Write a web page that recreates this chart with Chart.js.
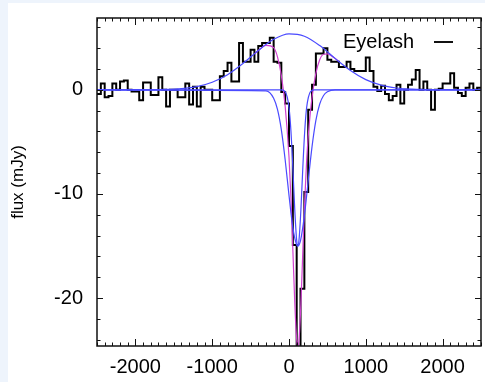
<!DOCTYPE html>
<html>
<head>
<meta charset="utf-8">
<script src="https://cdn.jsdelivr.net/npm/chart.js@4.4.1/dist/chart.umd.min.js"></script>
<style>
    html, body { margin: 0; padding: 0; background: #eef4fc; }
    #wrap { position: absolute; left: 8px; top: 3px; width: 477px; height: 379px; background: #ffffff; }
</style>
</head>
<body>
<div id="wrap"><canvas id="chart1" width="477" height="379"></canvas></div>
<script>
/* ---------------------------------------------------------------------------------------- */
/* DATA                                                                                     */
/* ---------------------------------------------------------------------------------------- */

    // binned spectrum, 50 km/s channels starting at -2500
    var binStart = -2500;
    var binWidth = 50;
    var fluxBins = [
        -0.4, 0.6, -0.7, -0.6, 0.6, 0.0, 0.8, 0.9, 0.0, -0.15,
        -0.15, -1.0, 0.7, 0.7, -0.5, -0.5, 1.2, 0.0, -1.6, 0.0,
        0.0, -0.7, -0.7, 0.6, -1.4, 0.3, -1.6, 0.3, 0.0, 0.0,
        -1.0, -1.0, 1.3, 1.8, 2.6, 0.8, 0.8, 4.5, 2.7, 2.7,
        3.85, 2.7, 4.2, 4.5, 4.5, 5.0, 2.7, 2.6, -0.2, -1.3,
        -5.4, -14.9, -26.0, -19.1, -9.8, -1.9, 0.5, 3.5, 3.5, 4.0,
        2.9, 2.7, 2.7, 2.2, 2.2, 2.7, 2.0, 1.8, 1.8, 1.8,
        3.1, 1.8, 0.3, -0.1, 0.4, -0.4, -1.0, -0.6, 0.5, -1.3,
        0.0, 0.5, 1.0, 1.9, 0.0, 0.8, 0.0, -1.9, 0.0, 0.1,
        0.6, 0.6, 1.6, 0.2, -0.3, -0.6, 0.2, 0.6, 0.0, 0.2
    ];

    // broad emission component
    var broadX = [-2500, -2000, -1600, -1400, -1200, -1000, -800, -600, -400, -200, 0, 200, 400, 600, 800, 1000, 1200, 1400, 1600, 2000, 2500];
    var broadY = [0.0, 0.0, 0.04, 0.12, 0.31, 0.73, 1.46, 2.53, 3.78, 4.85, 5.38, 5.15, 4.25, 3.02, 1.86, 0.98, 0.45, 0.18, 0.06, 0.01, 0.0];

    // wide absorption component
    var wideX = [-2500, -300, -200, -150, -100, -50, 0, 50, 100, 115, 150, 200, 250, 300, 350, 400, 450, 500, 600, 2500];
    var wideY = [0.0, -0.09, -0.80, -1.88, -3.82, -6.71, -10.14, -13.24, -14.9, -15.0, -14.47, -12.11, -8.75, -5.45, -2.93, -1.36, -0.54, -0.19, -0.01, 0.0];

    // narrow absorption component
    var narrowX = [-2500, -100, -50, 0, 25, 50, 75, 100, 115, 130, 155, 180, 205, 230, 280, 330, 2500];
    var narrowY = [0.0, 0.0, -0.17, -1.69, -3.93, -7.46, -11.51, -14.45, -15.0, -14.45, -11.51, -7.46, -3.93, -1.69, -0.17, 0.0, 0.0];

    // total fit
    var fitX = [-450, -400, -300, -200, -150, -100, -50, 0, 25, 50, 75, 100, 115, 130, 155, 180, 205, 230, 250, 280, 300, 350, 400, 450, 500, 550, 600, 650];
    var fitY = [3.46, 3.78, 4.27, 4.05, 3.17, 1.39, -1.56, -6.45, -10.33, -15.30, -20.43, -23.99, -24.66, -24.03, -20.55, -15.49, -10.59, -6.78, -4.51, -2.03, -0.73, 1.59, 2.89, 3.42, 3.46, 3.28, 3.01, 2.71];

    var xTicks = [-2000, -1000, 0, 1000, 2000];
    var yTicks = [-20, -10, 0];
    var legendLabel = 'Eyelash';
    var yTitle = 'flux (mJy)';

    var BLUE = '#4a4aff';
    var MAGENTA = '#d040d0';
    var FONT = '"Liberation Sans", Helvetica, Arial, sans-serif';

/* ---------------------------------------------------------------------------------------- */
/* HELPERS                                                                                  */
/* ---------------------------------------------------------------------------------------- */

    function pts(xs, ys){
        var out = [];
        for(let i = 0; i < xs.length; i++){
            out.push({ x: xs[i], y: ys[i] });
        }
        return out;
    }

    function histPoints(){
        var out = [{ x: binStart, y: fluxBins[0] }];
        for(let i = 0; i < fluxBins.length; i++){
            out.push({ x: binStart + binWidth * (i + 0.5), y: fluxBins[i] });
        }
        out.push({ x: binStart + binWidth * fluxBins.length, y: fluxBins[fluxBins.length - 1] });
        return out;
    }

    // frame, inside ticks on all four sides, legend entry
    var frameTicks = {
        id: 'frameTicks',
        afterDatasetsDraw: function(chart){
            var a = chart.chartArea, sx = chart.scales.x, sy = chart.scales.y, c = chart.ctx;
            c.save();
            c.strokeStyle = '#111';
            c.lineWidth = 1;
            c.beginPath();
            for(let v = -2500; v <= 2500; v += 100){
                let px = Math.round(sx.getPixelForValue(v)) + 0.5;
                let len = (v % 1000 === 0) ? 7 : 3.5;
                c.moveTo(px, a.bottom); c.lineTo(px, a.bottom - len);
                c.moveTo(px, a.top);    c.lineTo(px, a.top + len);
            }
            for(let v = -24; v <= 6; v += 2){
                let py = Math.round(sy.getPixelForValue(v)) + 0.5;
                let len = (v % 10 === 0) ? 6 : 3.5;
                c.moveTo(a.left, py);  c.lineTo(a.left + len, py);
                c.moveTo(a.right, py); c.lineTo(a.right - len, py);
            }
            c.stroke();
            c.lineWidth = 1.5;
            c.strokeRect(a.left, a.top, a.right - a.left, a.bottom - a.top);

            // legend
            c.fillStyle = '#000';
            c.font = '20px ' + FONT;
            c.textBaseline = 'middle';
            c.textAlign = 'left';
            c.fillText(legendLabel, a.right - 138, a.top + 24);
            c.lineWidth = 2;
            c.beginPath();
            c.moveTo(a.right - 47, a.top + 24);
            c.lineTo(a.right - 28, a.top + 24);
            c.stroke();
            c.restore();
        }
    };

/* ---------------------------------------------------------------------------------------- */
/* CHART                                                                                    */
/* ---------------------------------------------------------------------------------------- */

    var ctx = document.getElementById('chart1').getContext('2d');
    var chart1 = new Chart(ctx, {
        type: 'line',
        data: {
            datasets: [{
                label: 'narrow',
                data: pts(narrowX, narrowY),
                borderColor: BLUE, borderWidth: 1.2,
                pointRadius: 0, cubicInterpolationMode: 'monotone'
            },{
                label: 'wide',
                data: pts(wideX, wideY),
                borderColor: BLUE, borderWidth: 1.2,
                pointRadius: 0, cubicInterpolationMode: 'monotone'
            },{
                label: 'broad',
                data: pts(broadX, broadY),
                borderColor: BLUE, borderWidth: 1.2,
                pointRadius: 0, cubicInterpolationMode: 'monotone'
            },{
                label: 'fit',
                data: pts(fitX, fitY),
                borderColor: MAGENTA, borderWidth: 1.2,
                pointRadius: 0, cubicInterpolationMode: 'monotone'
            },{
                label: legendLabel,
                data: histPoints(),
                borderColor: '#000', borderWidth: 2,
                pointRadius: 0, stepped: 'middle'
            }]
        },
        options: {
            responsive: false,
            animation: false,
            layout: { padding: { top: 15, right: 4, left: 0, bottom: 0 } },
            plugins: { legend: { display: false }, tooltip: { enabled: false } },
            scales: {
                x: {
                    type: 'linear', min: -2500, max: 2500,
                    afterBuildTicks: function(s){ s.ticks = xTicks.map(function(v){ return { value: v }; }); },
                    afterFit: function(s){ s.height = 36; s.paddingLeft = 0; s.paddingRight = 0; },
                    grid: { display: false, drawTicks: false },
                    border: { display: false },
                    ticks: {
                        color: '#000', padding: 9, maxRotation: 0, autoSkip: false,
                        font: { family: FONT, size: 20 },
                        callback: function(v){ return String(v); }
                    }
                },
                y: {
                    type: 'linear', min: -24.6, max: 6.9,
                    afterBuildTicks: function(s){ s.ticks = yTicks.map(function(v){ return { value: v }; }); },
                    afterFit: function(s){ s.width = 89; s.paddingTop = 0; s.paddingBottom = 0; },
                    grid: { display: false, drawTicks: false },
                    border: { display: false },
                    title: { display: true, text: yTitle, color: '#000', padding: { top: 0, bottom: 0 }, font: { family: FONT, size: 17 } },
                    ticks: {
                        color: '#000', padding: 14,
                        font: { family: FONT, size: 20 },
                        callback: function(v){ return String(v); }
                    }
                }
            }
        },
        plugins: [frameTicks]
    });
</script>
</body>
</html>
